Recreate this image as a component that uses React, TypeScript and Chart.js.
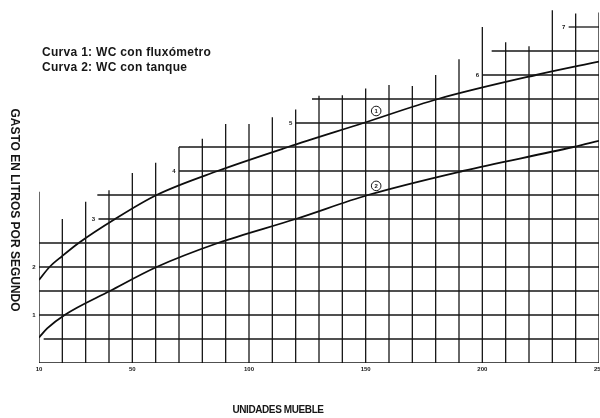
import React, { useEffect, useRef } from "react";
import { Chart, registerables } from "chart.js";

Chart.register(...registerables);

// ---- data ----
const xTickValues = [10, 50, 100, 150, 200, 250];
const xTickLabels = ["10", "50", "100", "150", "200", "250"];
const yTickValues = [1, 2, 3, 4, 5, 6, 7];
const yTickLabels = ["1", "2", "3", "4", "5", "6", "7"];

// horizontal grid lines (stair-step): level and start (in unidades mueble)
const hLevels = [0, 0.5, 1, 1.5, 2, 2.5, 3, 3.5, 4, 4.5, 5, 5.5, 6, 6.5, 7];
const hStarts = [10, 12, 10, 10, 10, 10, 35.5, 35, 70, 70, 120, 127, 200, 204, 237];

// vertical grid lines: position and top (litros/s)
const vPositions = [10, 20, 30, 40, 50, 60, 70, 80, 90, 100, 110, 120, 130, 140, 150, 160, 170, 180, 190, 200, 210, 220, 230, 240, 250];
const vTops = [3.57, 3.0, 3.36, 3.6, 3.96, 4.17, 4.5, 4.67, 4.98, 4.98, 5.12, 5.28, 5.57, 5.58, 5.72, 5.79, 5.77, 6.0, 6.33, 7.0, 6.68, 6.6, 7.35, 7.28, 7.3];

// Curva 1: WC con fluxómetro
const curve1X = [10, 14.5, 20, 27, 42.6, 60.4, 86.5, 116.7, 149, 181, 223, 250];
const curve1Y = [1.73, 2.0, 2.23, 2.5, 3.0, 3.5, 4.0, 4.5, 5.0, 5.5, 6.0, 6.28];
// Curva 2: WC con tanque
const curve2X = [10, 13.5, 21, 40.4, 60.4, 86.7, 120, 151, 191.6, 239, 250];
const curve2Y = [0.53, 0.72, 1.0, 1.5, 2.0, 2.5, 3.0, 3.5, 4.0, 4.5, 4.63];

const curveMarkLabels = ["1", "2"];
const curveMarkX = [154.5, 154.5];
const curveMarkY = [5.25, 3.69];

const legendLines = ["Curva 1: WC con fluxómetro", "Curva 2: WC con tanque"];
const yTitle = "GASTO EN LITROS POR SEGUNDO";
const xTitle = "UNIDADES MUEBLE";

const FONT = "'Liberation Sans', Arial, Helvetica, sans-serif";
const INK = "#161616";

const textPlugin = {
  id: "textPlugin",
  afterDatasetsDraw(chart: any) {
    const { ctx, scales } = chart;
    const xs = scales.x;
    const ys = scales.y;
    ctx.save();
    ctx.fillStyle = INK;
    ctx.strokeStyle = INK;

    // y tick labels near the start of their stair lines
    ctx.font = `bold 6px ${FONT}`;
    ctx.textAlign = "center";
    ctx.textBaseline = "middle";
    yTickValues.forEach((v, i) => {
      const idx = hLevels.indexOf(v);
      const sx = xs.getPixelForValue(hStarts[idx]);
      const py = ys.getPixelForValue(v);
      ctx.fillText(yTickLabels[i], sx - 5, py);
    });

    // x tick labels
    xTickValues.forEach((v, i) => {
      const px = xs.getPixelForValue(v);
      ctx.fillText(xTickLabels[i], px, ys.getPixelForValue(0) + 6);
    });

    // curve markers
    curveMarkLabels.forEach((t, i) => {
      const px = xs.getPixelForValue(curveMarkX[i]);
      const py = ys.getPixelForValue(curveMarkY[i]);
      ctx.fillStyle = "#fff";
      ctx.beginPath();
      ctx.arc(px, py, 4.8, 0, Math.PI * 2);
      ctx.fill();
      ctx.lineWidth = 1;
      ctx.stroke();
      ctx.fillStyle = INK;
      ctx.font = `bold 6px ${FONT}`;
      ctx.fillText(t, px, py + 0.5);
    });

    // legend
    ctx.textAlign = "left";
    ctx.font = `bold 12px ${FONT}`;
    (ctx as any).letterSpacing = "0.3px";
    legendLines.forEach((t, i) => {
      ctx.fillText(t, 42, 53 + i * 14.5);
    });
    (ctx as any).letterSpacing = "0px";

    // y title
    ctx.save();
    ctx.translate(14, 210);
    ctx.rotate(Math.PI / 2);
    ctx.textAlign = "center";
    ctx.font = `bold 12px ${FONT}`;
    ctx.fillText(yTitle, 0, 0);
    ctx.restore();

    // x title
    ctx.textAlign = "center";
    ctx.font = `bold 10px ${FONT}`;
    (ctx as any).letterSpacing = "-0.4px";
    ctx.fillText(xTitle, 278, 410);
    (ctx as any).letterSpacing = "0px";

    ctx.restore();
  },
};

export default function App() {
  const ref = useRef<HTMLCanvasElement | null>(null);

  useEffect(() => {
    if (!ref.current) return;
    const gridStyle = {
      borderColor: INK,
      borderWidth: 1.3,
      pointRadius: 0,
      tension: 0,
      fill: false,
    };
    const datasets: any[] = [];
    hLevels.forEach((lv, i) => {
      datasets.push({
        ...gridStyle,
        label: `h${lv}`,
        data: [
          { x: hStarts[i], y: lv },
          { x: 250, y: lv },
        ],
      });
    });
    vPositions.forEach((vx, i) => {
      datasets.push({
        ...gridStyle,
        label: `v${vx}`,
        data: [
          { x: vx, y: 0 },
          { x: vx, y: vTops[i] },
        ],
      });
    });
    datasets.push({
      label: "Curva 1",
      data: curve1X.map((x, i) => ({ x, y: curve1Y[i] })),
      borderColor: "#0d0d0d",
      borderWidth: 1.8,
      pointRadius: 0,
      cubicInterpolationMode: "monotone",
      fill: false,
    });
    datasets.push({
      label: "Curva 2",
      data: curve2X.map((x, i) => ({ x, y: curve2Y[i] })),
      borderColor: "#0d0d0d",
      borderWidth: 1.8,
      pointRadius: 0,
      cubicInterpolationMode: "monotone",
      fill: false,
    });

    const chart = new Chart(ref.current, {
      type: "line",
      data: { datasets },
      options: {
        animation: false,
        responsive: false,
        devicePixelRatio: 1,
        layout: { padding: { left: 39, right: 1, top: 3, bottom: 55 } },
        plugins: {
          legend: { display: false },
          tooltip: { enabled: false },
          title: { display: false },
        },
        scales: {
          x: { type: "linear", min: 10, max: 250, display: false },
          y: { type: "linear", min: 0, max: 7.5, display: false },
        },
      },
      plugins: [textPlugin],
    });
    return () => chart.destroy();
  }, []);

  return (
    <div style={{ position: "absolute", left: 0, top: 0, width: 600, height: 418, background: "#fff" }}>
      <canvas ref={ref} width={600} height={418} style={{ display: "block" }} />
    </div>
  );
}
